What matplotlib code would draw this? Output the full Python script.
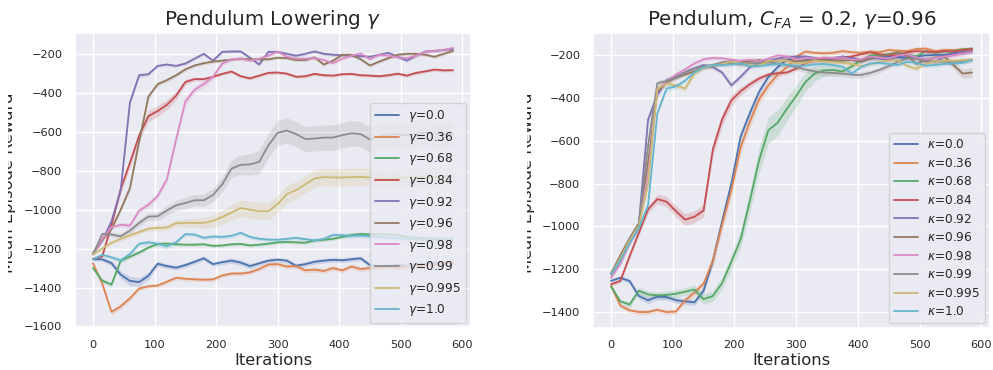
import numpy as np
import matplotlib
matplotlib.use("Agg")
import matplotlib.pyplot as plt
import seaborn as sns
from matplotlib.transforms import Bbox

sns.set_theme(style="darkgrid")
plt.rcParams["font.family"] = ["DejaVu Sans"]

iterations = np.arange(0, 586, 15)

palette = sns.color_palette("deep", 10)

gammas = ["0.0", "0.36", "0.68", "0.84", "0.92", "0.96", "0.98", "0.99", "0.995", "1.0"]
kappas = ["0.0", "0.36", "0.68", "0.84", "0.92", "0.96", "0.98", "0.99", "0.995", "1.0"]

# ---- Pendulum, lowering gamma: mean episode reward per gamma ----
gamma_0_0 = [-1255, -1255, -1275, -1334, -1366, -1372, -1340, -1278, -1290, -1298,
             -1285, -1268, -1250, -1280, -1270, -1262, -1272, -1290, -1276, -1262,
             -1257, -1262, -1288, -1280, -1268, -1262, -1258, -1260, -1255, -1250,
             -1285, -1295, -1290, -1285, -1290, -1282, -1278, -1275, -1272, -1270]
gamma_0_36 = [-1275, -1380, -1525, -1497, -1455, -1405, -1394, -1390, -1370, -1350,
              -1355, -1358, -1360, -1358, -1338, -1328, -1328, -1322, -1305, -1282,
              -1280, -1292, -1290, -1312, -1308, -1315, -1300, -1312, -1292, -1305,
              -1300, -1298, -1295, -1300, -1290, -1292, -1285, -1282, -1276, -1272]
gamma_0_68 = [-1300, -1365, -1385, -1262, -1242, -1220, -1195, -1177, -1174, -1178,
              -1180, -1180, -1178, -1186, -1184, -1178, -1176, -1184, -1180, -1175,
              -1168, -1166, -1168, -1170, -1158, -1155, -1150, -1140, -1130, -1125,
              -1128, -1125, -1128, -1132, -1140, -1145, -1148, -1150, -1152, -1150]
gamma_0_84 = [-1253, -1240, -1080, -895, -760, -620, -520, -494, -462, -415,
              -345, -330, -330, -318, -303, -291, -315, -326, -312, -298,
              -296, -302, -318, -315, -303, -310, -312, -305, -303, -310,
              -312, -315, -310, -302, -312, -298, -290, -281, -285, -284]
gamma_0_92 = [-1225, -1160, -1060, -900, -450, -310, -305, -262, -255, -262,
              -250, -225, -200, -235, -190, -188, -188, -220, -255, -190,
              -190, -200, -210, -200, -188, -200, -205, -207, -210, -212,
              -215, -205, -195, -215, -235, -210, -188, -185, -180, -176]
gamma_0_96 = [-1225, -1155, -1100, -1000, -890, -650, -420, -356, -335, -310,
              -280, -260, -248, -240, -235, -230, -225, -228, -228, -228,
              -220, -222, -232, -232, -218, -255, -235, -205, -205, -228,
              -260, -240, -222, -205, -200, -200, -205, -215, -200, -185]
gamma_0_98 = [-1230, -1150, -1090, -1078, -1082, -1005, -975, -930, -845, -640,
              -445, -385, -355, -318, -250, -228, -224, -235, -225, -210,
              -188, -215, -225, -225, -222, -232, -248, -225, -210, -198,
              -228, -205, -210, -218, -222, -210, -190, -185, -180, -170]
gamma_0_99 = [-1230, -1125, -1128, -1137, -1108, -1068, -1036, -1034, -1005, -978,
              -966, -952, -952, -925, -870, -790, -770, -768, -755, -670,
              -606, -594, -612, -638, -635, -630, -630, -618, -608, -612,
              -640, -625, -615, -612, -618, -612, -605, -610, -615, -612]
gamma_0_995 = [-1230, -1200, -1170, -1150, -1132, -1115, -1098, -1094, -1092, -1070,
               -1068, -1068, -1068, -1058, -1038, -1015, -992, -1000, -1008, -1008,
               -972, -920, -900, -870, -840, -833, -835, -835, -833, -832,
               -835, -838, -840, -838, -835, -833, -832, -832, -830, -830]
gamma_1_0 = [-1255, -1232, -1245, -1260, -1228, -1175, -1168, -1175, -1188, -1168,
             -1126, -1128, -1145, -1138, -1140, -1135, -1119, -1140, -1150, -1154,
             -1155, -1150, -1145, -1152, -1158, -1150, -1130, -1132, -1134, -1133,
             -1138, -1140, -1145, -1148, -1150, -1152, -1155, -1155, -1152, -1150]

# confidence half-widths of the gamma runs
gamma_0_0_ci = [8, 10, 14, 20, 24, 24, 20, 14, 12, 12, 12, 12, 12, 12, 12, 14, 14, 14, 12, 12,
                12, 12, 12, 12, 12, 12, 12, 12, 12, 12, 12, 12, 12, 12, 12, 12, 12, 12, 12, 12]
gamma_0_36_ci = [6, 10, 14, 14, 12, 10, 10, 10, 10, 10, 10, 10, 10, 10, 10, 10, 10, 10, 10, 10,
                 12, 12, 12, 12, 12, 12, 12, 12, 12, 12, 12, 12, 12, 12, 12, 12, 12, 12, 12, 12]
gamma_0_68_ci = [6, 10, 12, 12, 10, 10, 10, 10, 8, 8, 8, 8, 8, 8, 8, 8, 8, 8, 8, 8,
                 8, 8, 8, 8, 8, 8, 8, 8, 10, 10, 12, 12, 12, 12, 12, 12, 12, 12, 12, 12]
gamma_0_84_ci = [6, 8, 14, 20, 24, 26, 28, 28, 26, 22, 14, 10, 8, 8, 8, 8, 8, 8, 8, 8,
                 8, 8, 8, 8, 8, 8, 8, 8, 8, 8, 8, 8, 8, 8, 8, 8, 8, 8, 8, 8]
gamma_0_92_ci = [6, 8, 10, 14, 16, 12, 10, 8, 8, 8, 8, 8, 8, 8, 8, 8, 8, 8, 8, 8,
                 8, 8, 8, 8, 8, 8, 8, 8, 8, 8, 8, 8, 8, 8, 8, 8, 8, 8, 8, 8]
gamma_0_96_ci = [6, 8, 10, 12, 14, 14, 12, 10, 10, 10, 8, 8, 8, 8, 8, 8, 8, 8, 8, 8,
                 8, 8, 8, 8, 8, 8, 8, 8, 8, 8, 8, 8, 8, 8, 8, 8, 8, 8, 8, 8]
gamma_0_98_ci = [6, 8, 10, 12, 14, 14, 14, 16, 20, 22, 22, 20, 18, 14, 10, 8, 8, 8, 8, 8,
                 8, 8, 8, 8, 8, 8, 8, 8, 8, 8, 8, 8, 8, 8, 8, 8, 8, 8, 8, 8]
gamma_0_99_ci = [6, 10, 12, 14, 16, 18, 20, 22, 24, 26, 28, 30, 32, 34, 38, 45, 50, 55, 60, 62,
                 65, 65, 65, 65, 65, 65, 65, 65, 65, 65, 65, 65, 65, 65, 65, 65, 65, 65, 65, 65]
gamma_0_995_ci = [6, 8, 10, 12, 12, 12, 12, 14, 16, 18, 20, 24, 28, 32, 36, 40, 42, 44, 45, 45,
                  45, 45, 45, 45, 45, 45, 45, 45, 45, 45, 45, 45, 45, 45, 45, 45, 45, 45, 45, 45]
gamma_1_0_ci = [6, 8, 10, 12, 12, 12, 12, 14, 14, 12, 10, 10, 10, 10, 10, 10, 10, 10, 10, 10,
                10, 10, 10, 10, 10, 10, 10, 12, 12, 12, 12, 12, 12, 12, 12, 12, 12, 12, 12, 12]

# ---- Pendulum, C_FA = 0.2, gamma = 0.96: mean episode reward per kappa ----
kappa_0_0 = [-1254, -1240, -1255, -1325, -1345, -1328, -1330, -1345, -1350, -1355,
             -1300, -1160, -975, -800, -580, -470, -370, -300, -255, -220,
             -212, -215, -220, -220, -212, -210, -212, -222, -215, -210,
             -205, -210, -212, -205, -200, -198, -198, -190, -185, -180]
kappa_0_36 = [-1278, -1370, -1392, -1400, -1400, -1390, -1400, -1398, -1345, -1310,
              -1268, -1160, -990, -830, -630, -510, -405, -340, -290, -255,
              -206, -182, -188, -190, -188, -180, -185, -188, -182, -185,
              -175, -178, -180, -170, -168, -180, -175, -175, -172, -175]
kappa_0_68 = [-1280, -1350, -1365, -1300, -1318, -1322, -1320, -1315, -1305, -1295,
              -1340, -1325, -1265, -1165, -1060, -880, -690, -550, -515, -450,
              -390, -325, -285, -270, -268, -275, -252, -222, -200, -198,
              -195, -188, -195, -205, -180, -188, -182, -180, -172, -168]
kappa_0_84 = [-1270, -1255, -1140, -1030, -920, -872, -884, -928, -968, -955,
              -925, -640, -500, -410, -368, -335, -308, -290, -283, -280,
              -262, -236, -225, -222, -215, -210, -205, -195, -185, -195,
              -200, -198, -185, -180, -182, -185, -180, -182, -175, -170]
kappa_0_92 = [-1225, -1165, -1065, -990, -500, -385, -315, -300, -278, -260,
              -245, -255, -280, -340, -300, -255, -235, -225, -215, -207,
              -205, -205, -212, -220, -215, -205, -215, -225, -210, -215,
              -222, -205, -200, -212, -228, -232, -205, -195, -188, -180]
kappa_0_96 = [-1220, -1135, -1055, -985, -700, -370, -325, -305, -290, -275,
              -258, -248, -240, -238, -232, -228, -222, -232, -225, -222,
              -228, -225, -220, -215, -225, -225, -222, -230, -215, -205,
              -195, -185, -200, -240, -220, -210, -205, -245, -285, -280]
kappa_0_98 = [-1240, -1175, -1080, -1000, -760, -360, -320, -290, -265, -238,
              -218, -212, -214, -220, -225, -220, -228, -215, -200, -205,
              -218, -212, -215, -210, -212, -210, -220, -218, -205, -210,
              -215, -200, -195, -210, -218, -212, -205, -200, -192, -185]
kappa_0_99 = [-1220, -1145, -1060, -990, -620, -330, -320, -305, -280, -262,
              -250, -245, -232, -228, -243, -238, -236, -232, -238, -245,
              -255, -266, -275, -280, -282, -285, -290, -292, -282, -268,
              -250, -230, -215, -218, -225, -228, -230, -232, -225, -222]
kappa_0_995 = [-1225, -1150, -1065, -1000, -800, -355, -332, -340, -355, -285,
               -258, -248, -240, -230, -238, -245, -248, -225, -225, -225,
               -238, -235, -225, -228, -232, -235, -240, -250, -240, -230,
               -225, -222, -250, -262, -240, -228, -225, -225, -222, -220]
kappa_1_0 = [-1225, -1160, -1078, -1010, -900, -470, -355, -345, -318, -280,
             -255, -245, -245, -242, -238, -250, -250, -245, -240, -245,
             -248, -248, -242, -240, -245, -252, -285, -255, -238, -235,
             -240, -245, -230, -235, -248, -245, -240, -238, -235, -222]

# confidence half-widths of the kappa runs
kappa_0_0_ci = [8, 10, 12, 14, 16, 16, 14, 14, 14, 14, 16, 24, 28, 28, 26, 22, 18, 14, 12, 10,
                10, 10, 10, 10, 10, 10, 10, 10, 10, 10, 10, 10, 10, 10, 10, 10, 10, 10, 10, 10]
kappa_0_36_ci = [8, 10, 12, 12, 12, 12, 12, 12, 14, 16, 20, 26, 30, 30, 30, 28, 26, 22, 18, 14,
                 12, 10, 10, 10, 10, 10, 10, 10, 10, 10, 10, 10, 10, 10, 10, 10, 10, 10, 10, 10]
kappa_0_68_ci = [8, 10, 14, 16, 16, 16, 18, 18, 18, 20, 24, 26, 30, 34, 40, 50, 60, 62, 60, 55,
                 50, 44, 36, 28, 22, 18, 14, 12, 10, 10, 10, 10, 10, 10, 10, 10, 10, 10, 10, 10]
kappa_0_84_ci = [8, 10, 12, 14, 18, 22, 24, 26, 28, 28, 30, 32, 30, 26, 20, 16, 14, 12, 10, 10,
                 10, 10, 10, 10, 10, 10, 10, 10, 10, 10, 10, 10, 10, 10, 10, 10, 10, 10, 10, 10]
kappa_0_92_ci = [8, 10, 12, 14, 20, 16, 12, 10, 10, 10, 10, 10, 10, 12, 10, 10, 10, 10, 10, 10,
                 10, 10, 10, 10, 10, 10, 10, 10, 10, 10, 10, 10, 10, 10, 10, 10, 10, 10, 10, 10]
kappa_0_96_ci = [8, 10, 12, 14, 18, 14, 12, 10, 10, 10, 10, 10, 10, 10, 10, 10, 10, 10, 10, 10,
                 10, 10, 10, 10, 10, 10, 10, 10, 10, 10, 10, 10, 10, 12, 12, 12, 14, 18, 22, 24]
kappa_0_98_ci = [8, 10, 12, 14, 18, 14, 12, 10, 10, 10, 10, 10, 10, 10, 10, 10, 10, 10, 10, 10,
                 10, 10, 10, 10, 10, 10, 10, 10, 10, 10, 10, 10, 10, 10, 10, 10, 10, 10, 10, 10]
kappa_0_99_ci = [8, 10, 12, 14, 18, 14, 12, 10, 10, 10, 10, 10, 10, 10, 12, 12, 12, 12, 14, 14,
                 14, 14, 16, 16, 16, 16, 16, 16, 14, 14, 12, 12, 12, 12, 12, 12, 12, 12, 12, 12]
kappa_0_995_ci = [8, 10, 12, 14, 18, 16, 14, 14, 14, 12, 10, 10, 10, 10, 10, 10, 10, 10, 10, 10,
                  10, 10, 10, 10, 10, 10, 10, 10, 10, 10, 10, 10, 12, 12, 12, 10, 10, 10, 10, 10]
kappa_1_0_ci = [8, 10, 12, 14, 18, 18, 14, 12, 10, 10, 10, 10, 10, 10, 10, 10, 10, 10, 10, 10,
                10, 10, 10, 10, 10, 10, 12, 10, 10, 10, 10, 10, 10, 10, 10, 10, 10, 10, 10, 10]

gamma_runs = [gamma_0_0, gamma_0_36, gamma_0_68, gamma_0_84, gamma_0_92,
              gamma_0_96, gamma_0_98, gamma_0_99, gamma_0_995, gamma_1_0]
gamma_cis = [gamma_0_0_ci, gamma_0_36_ci, gamma_0_68_ci, gamma_0_84_ci, gamma_0_92_ci,
             gamma_0_96_ci, gamma_0_98_ci, gamma_0_99_ci, gamma_0_995_ci, gamma_1_0_ci]
kappa_runs = [kappa_0_0, kappa_0_36, kappa_0_68, kappa_0_84, kappa_0_92,
              kappa_0_96, kappa_0_98, kappa_0_99, kappa_0_995, kappa_1_0]
kappa_cis = [kappa_0_0_ci, kappa_0_36_ci, kappa_0_68_ci, kappa_0_84_ci, kappa_0_92_ci,
             kappa_0_96_ci, kappa_0_98_ci, kappa_0_99_ci, kappa_0_995_ci, kappa_1_0_ci]

W, H = 993, 370
fig = plt.figure(figsize=(W / 100, H / 100), dpi=100)
ax_l = fig.add_axes([75 / W, 1 - 328 / H, 396 / W, 295 / H])
ax_r = fig.add_axes([593 / W, 1 - 328 / H, 397 / W, 295 / H])


def draw_runs(ax, runs, cis, names, symbol):
    for i, (m, ci, name) in enumerate(zip(runs, cis, names)):
        m = np.asarray(m, float)
        ci = np.asarray(ci, float)
        ax.fill_between(iterations, m - ci, m + ci, color=palette[i], alpha=0.2, lw=0)
        ax.plot(iterations, m, color=palette[i], lw=1.3, label=rf"$\{symbol}$={name}")
    ax.tick_params(axis="both", labelsize=8.2, pad=3)
    ax.set_xlabel("Iterations", fontsize=11.8, labelpad=2)
    ax.set_xticks([0, 100, 200, 300, 400, 500, 600])
    ax.legend(loc="lower right", fontsize=8.7, labelspacing=0.46,
              handlelength=2.0, borderaxespad=0.4)


draw_runs(ax_l, gamma_runs, gamma_cis, gammas, "gamma")
draw_runs(ax_r, kappa_runs, kappa_cis, kappas, "kappa")

ax_l.set_yticks([-200, -400, -600, -800, -1000, -1200, -1400, -1600])
ax_r.set_yticks([-200, -400, -600, -800, -1000, -1200, -1400])

ax_l.set_title(r"Pendulum Lowering $\gamma$", fontsize=14.3, pad=6)
ax_r.set_title(r"Pendulum, $C_{FA}$ = 0.2, $\gamma$=0.96", fontsize=14.3, pad=6)

# y-axis titles, trimmed at the panel edges
for x_right, x_clip in [(16, 8), (535, 527)]:
    t = fig.text(x_right / W, 1 - 183 / H, "Mean Episode Reward", rotation=90,
                 ha="right", va="center", fontsize=11.8, color="#262626")
    t.set_clip_box(Bbox([[x_clip, 0], [x_right + 10, H]]))
    t.set_clip_on(True)

fig.savefig("out.png", dpi=100)
